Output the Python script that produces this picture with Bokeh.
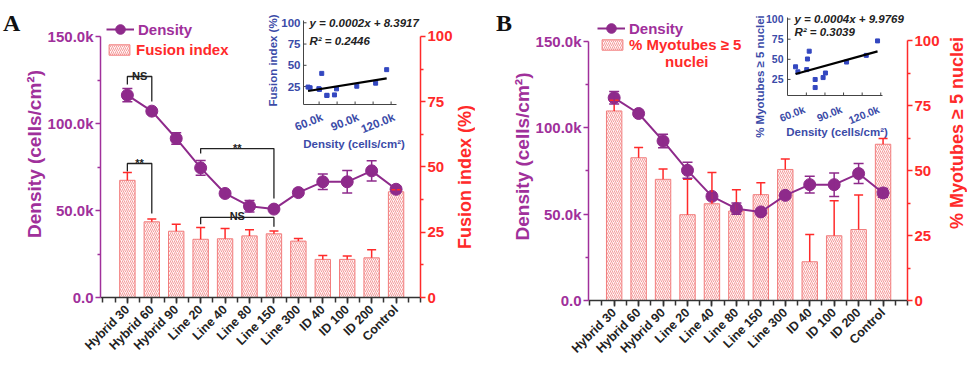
import numpy as np
from bokeh.plotting import figure
from bokeh.models import (Range1d, LinearAxis, FixedTicker, Whisker, TeeHead,
                          ColumnDataSource, Legend, LegendItem, Label, GridBox, Div)
from bokeh.embed import file_html
from bokeh.resources import INLINE
from bokeh.core.properties import value

FONT = "Liberation Sans"
PURPLE = "#8E2A8B"
PURPLE_TXT = "#A0309B"
RED = "#FF2A2A"
BAR_LINE = "#F27C7C"
HATCH = "#F29494"
BLUE = "#3B4BA8"
DOT = "#3347C0"
DARK = "#222222"

# ---------------- data ----------------
categories = ["Hybrid 30", "Hybrid 60", "Hybrid 90", "Line 20", "Line 40", "Line 80",
              "Line 150", "Line 300", "ID 40", "ID 100", "ID 200", "Control"]

density_a = [116300, 107100, 91400, 74500, 59800, 52500, 50800, 60300, 66500, 66500, 72800, 62200]
density_a_err = [3800, 1200, 3300, 4300, 1500, 3300, 1500, 1500, 4500, 6500, 5800, 2000]
fusion_a = [44.9, 29.0, 25.4, 22.3, 22.5, 23.6, 24.4, 21.6, 14.6, 14.6, 15.2, 40.5]
fusion_a_err = [3.0, 1.1, 2.7, 4.5, 3.9, 2.4, 1.1, 1.0, 1.5, 1.3, 3.1, 0.8]

density_b = [117400, 108300, 92400, 75400, 60300, 53200, 51300, 60900, 67100, 67100, 73500, 62300]
density_b_err = [3600, 1000, 3900, 4600, 2000, 3200, 1000, 1500, 4900, 6800, 5800, 2500]
myo_b = [72.9, 54.9, 46.6, 33.0, 37.2, 34.4, 40.7, 50.4, 14.9, 24.9, 27.3, 60.1]
myo_b_err = [4.1, 3.9, 4.0, 13.6, 12.0, 8.2, 4.6, 4.0, 10.5, 13.5, 13.3, 2.2]

# significance brackets (panel A, in density units)
bracket_x0 = [0, 0, 3, 3]
bracket_x1 = [1, 1, 6, 6]
bracket_top = [127000, 77000, 85600, 46000]
bracket_left_end = [122400, 72400, 82800, 42100]
bracket_right_end = [112600, 48300, 56900, 40600]
bracket_text = ["NS", "**", "**", "NS"]

left_ticks = [0, 50000, 100000, 150000]
left_tick_labels = ["0.0", "50.0k", "100.0k", "150.0k"]
left_minor = [25000, 75000, 125000]
right_ticks = [0, 25, 50, 75, 100]
right_minor = [12.5, 37.5, 62.5, 87.5]

inset_x_ticks = [60000, 90000, 120000]
inset_x_labels = ["60.0k", "90.0k", "120.0k"]
inset_x_minor = [75000, 105000]
inset_y_ticks = [25, 50, 75, 100]
inset_y_labels = ["25", "50", "75", "100"]

eq_a = ["y = 0.0002x + 8.3917", "R² = 0.2446"]
eq_b = ["y = 0.0004x + 9.9769", "R² = 0.3039"]


def build_main(density, dens_err, bars, bar_err, x_lo, y_max, r_max, fw, fh,
               b_left, b_right, b_top, b_bottom):
    idx = list(range(len(categories)))
    d = np.array(density, dtype=float)
    de = np.array(dens_err, dtype=float)
    b = np.array(bars, dtype=float)
    be = np.array(bar_err, dtype=float)
    src = ColumnDataSource(dict(x=idx, d=d, dlo=d - de, dhi=d + de, bar=b, btop=b + be))

    p = figure(frame_width=fw, frame_height=fh, x_range=Range1d(x_lo, 12.0),
               y_range=Range1d(0, y_max), output_backend="svg", toolbar_location=None,
               min_border_left=b_left, min_border_right=b_right,
               min_border_top=b_top, min_border_bottom=b_bottom)
    p.extra_y_ranges = {"right": Range1d(0, r_max)}
    p.grid.visible = False
    p.outline_line_color = None

    bar_r = p.vbar(x="x", top="bar", width=0.63, source=src, y_range_name="right",
                   fill_color="#FFF3F3", line_color=BAR_LINE, line_width=1,
                   hatch_pattern="/", hatch_color=HATCH, hatch_scale=4, hatch_weight=0.9)
    p.add_layout(Whisker(source=src, base="x", lower="bar", upper="btop", y_range_name="right",
                         line_color=RED, line_width=1.5, lower_head=None,
                         upper_head=TeeHead(size=9, line_color=RED, line_width=1.5),
                         level="annotation"))
    line_r = p.line(x="x", y="d", source=src, line_color=PURPLE, line_width=2)
    pts_r = p.scatter(x="x", y="d", source=src, size=12, color=PURPLE)
    p.add_layout(Whisker(source=src, base="x", lower="dlo", upper="dhi",
                         line_color=PURPLE, line_width=1.5,
                         upper_head=TeeHead(size=10, line_color=PURPLE, line_width=1.5),
                         lower_head=TeeHead(size=10, line_color=PURPLE, line_width=1.5),
                         level="annotation"))

    xa = p.xaxis[0]
    xa.ticker = FixedTicker(ticks=idx, minor_ticks=[v / 2 for v in range(-2, 25)])
    xa.major_label_overrides = {i: c for i, c in enumerate(categories)}
    xa.major_label_orientation = np.pi / 4
    xa.major_label_text_font = FONT
    xa.major_label_text_font_style = "bold"
    xa.major_label_text_font_size = "12.5px"
    xa.major_label_text_color = DARK
    xa.major_label_standoff = 4
    xa.axis_line_color = "#333333"
    xa.axis_line_width = 1.5
    xa.major_tick_line_color = "#333333"
    xa.minor_tick_line_color = "#333333"
    xa.major_tick_line_width = 1.5
    xa.minor_tick_line_width = 1.5
    xa.major_tick_out = 6
    xa.major_tick_in = 0
    xa.minor_tick_out = 5
    xa.minor_tick_in = 0

    ya = p.yaxis[0]
    ya.ticker = FixedTicker(ticks=left_ticks, minor_ticks=left_minor)
    ya.major_label_overrides = dict(zip(left_ticks, left_tick_labels))
    ya.bounds = (0, 150000)
    ya.axis_label = "Density (cells/cm²)"
    ya.axis_line_color = PURPLE_TXT
    ya.major_tick_line_color = PURPLE_TXT
    ya.minor_tick_line_color = PURPLE_TXT
    ya.axis_line_width = 1.5
    ya.major_tick_line_width = 1.5
    ya.minor_tick_line_width = 1.5
    ya.major_tick_out = 5
    ya.major_tick_in = 0
    ya.minor_tick_out = 3
    ya.minor_tick_in = 0
    ya.major_label_text_font = FONT
    ya.major_label_text_font_style = "bold"
    ya.major_label_text_font_size = "15px"
    ya.major_label_text_color = PURPLE_TXT
    ya.major_label_standoff = 2
    ya.axis_label_text_font = FONT
    ya.axis_label_text_font_style = "bold"
    ya.axis_label_text_font_size = "19px"
    ya.axis_label_text_color = PURPLE_TXT
    ya.axis_label_standoff = 0

    ra = LinearAxis(y_range_name="right",
                    ticker=FixedTicker(ticks=right_ticks, minor_ticks=right_minor),
                    bounds=(0, 100))
    ra.axis_line_color = RED
    ra.major_tick_line_color = RED
    ra.minor_tick_line_color = RED
    ra.axis_line_width = 1.5
    ra.major_tick_line_width = 1.5
    ra.minor_tick_line_width = 1.5
    ra.major_tick_out = 5
    ra.major_tick_in = 0
    ra.minor_tick_out = 3
    ra.minor_tick_in = 0
    ra.major_label_text_font = FONT
    ra.major_label_text_font_style = "bold"
    ra.major_label_text_font_size = "15px"
    ra.major_label_text_color = RED
    ra.major_label_standoff = 2
    p.add_layout(ra, "right")
    return p, line_r, pts_r, bar_r


def add_legends(p, line_r, pts_r, bar_r, bar_label, loc1, loc2):
    common = dict(border_line_color=None, background_fill_alpha=0, padding=0, margin=0,
                  label_standoff=4, spacing=0, label_text_font=FONT,
                  label_text_font_style="bold", label_text_font_size="15px")
    l1 = Legend(items=[LegendItem(label="Density", renderers=[line_r, pts_r])],
                location=loc1, glyph_width=28, glyph_height=24, label_height=24,
                label_text_color=PURPLE_TXT, **common)
    l2 = Legend(items=[LegendItem(label=bar_label, renderers=[bar_r])],
                location=loc2, glyph_width=26, glyph_height=13, label_height=13,
                label_text_color=RED, **common)
    p.add_layout(l1)
    p.add_layout(l2)


def outer_range(f0, f1, b0, b1, d0, d1):
    """Range over the whole frame (pixels f0..f1) so that d0..d1 lands on pixels b0..b1."""
    s = (d1 - d0) / (b1 - b0)
    return Range1d(d0 - (b0 - f0) * s, d1 + (f1 - b1) * s)


def add_inset(p, frame_box, inset_box, xr, yr, xs, ys, ylabel, eq, tick_size,
              ylab_dx, ylab_dy, xlab_dx, xlab_dy, ytick_dx, xtick_dx, xtick_dy, eq_dx, eq_dy):
    fl, fr, ft, fb = frame_box
    bl, br, bt, bb = inset_box
    p.extra_x_ranges["ins"] = outer_range(fl, fr, bl, br, xr[0], xr[1])
    p.extra_y_ranges["ins"] = outer_range(-fb, -ft, -bb, -bt, yr[0], yr[1])
    kw = dict(x_range_name="ins", y_range_name="ins")
    x0, x1 = xr
    y0, y1 = yr
    p.segment(x0=[x0, x0], y0=[y0, y0], x1=[x1, x0], y1=[y0, y1],
              line_color="#444444", line_width=1, **kw)
    xt = inset_x_ticks + inset_x_minor
    p.ray(x=xt, y=[y0] * len(xt), length=3, length_units="screen", angle=np.pi / 2,
          line_color="#444444", line_width=1, **kw)
    p.ray(x=[x0] * len(inset_y_ticks), y=inset_y_ticks, length=3, length_units="screen",
          angle=0, line_color="#444444", line_width=1, **kw)
    tfont = dict(text_font=value(FONT), text_font_style="bold", text_color=BLUE)
    p.text(x=[x0] * len(inset_y_ticks), y=inset_y_ticks, text=inset_y_labels,
           text_align="right", text_baseline="middle", x_offset=ytick_dx,
           text_font_size=tick_size, **tfont, **kw)
    p.text(x=inset_x_ticks, y=[y0] * len(inset_x_ticks), text=inset_x_labels, angle=0.38,
           text_align="right", text_baseline="middle", x_offset=xtick_dx, y_offset=xtick_dy,
           text_font_size=tick_size, **tfont, **kw)
    p.text(x=[(x0 + x1) / 2], y=[y0], text=["Density (cells/cm²)"], text_align="center",
           text_baseline="middle", x_offset=xlab_dx, y_offset=xlab_dy,
           text_font_size="11.5px", **tfont, **kw)
    p.text(x=[x0], y=[(y0 + y1) / 2], text=[ylabel], angle=np.pi / 2, text_align="center",
           text_baseline="middle", x_offset=ylab_dx, y_offset=ylab_dy,
           text_font_size="11.5px", **tfont, **kw)
    p.scatter(xs, ys, marker="square", size=4, color=DOT, **kw)
    coef = np.polyfit(np.array(xs, dtype=float), np.array(ys, dtype=float), 1)
    fx = np.array([min(xs), max(xs)], dtype=float)
    p.line(fx, np.polyval(coef, fx), line_color="black", line_width=2.2, **kw)
    p.text(x=[x0] * len(eq), y=[y1] * len(eq), text=eq, x_offset=eq_dx, y_offset=eq_dy,
           text_align="left", text_baseline="middle", text_font=value(FONT),
           text_font_style="bold italic", text_font_size="11.5px", text_color=DARK, **kw)


def side_label(text, size, width, line_h, height, left, top):
    style = {"writing-mode": "vertical-rl", "transform": "rotate(180deg)",
             "text-align": "center", "font-family": FONT, "font-weight": "bold",
             "font-size": size, "line-height": f"{line_h}px", "color": RED,
             "white-space": "nowrap"}
    return Div(text=text, width=width, height=height, margin=(top, 0, 0, left), styles=style)


# ---------------- panel A ----------------
pA, lA, sA, bA = build_main(density_a, density_a_err, fusion_a, fusion_a_err,
                            -1.1, 164943, 109.96, 320, 287, 93, 64, 4, 66)
pA.margin = (4, 0, 0, -11)
add_legends(pA, lA, sA, bA, "Fusion index", (6, 256), (6, 239))
mid = [(a + b) / 2 for a, b in zip(bracket_x0, bracket_x1)]
pA.multi_line(xs=[[a, a, b, b] for a, b in zip(bracket_x0, bracket_x1)],
              ys=[[l, t, t, r] for l, t, r in zip(bracket_left_end, bracket_top, bracket_right_end)],
              line_color=DARK, line_width=1.3)
pA.text(x=mid, y=bracket_top, text=bracket_text, text_align="center",
        text_baseline="alphabetic", y_offset=-1, text_font=value(FONT),
        text_font_style="bold", text_font_size="11px", text_color=DARK)
add_inset(pA, (101, 421, 12, 299), (304, 397, 22, 106), (47000, 124500), (3.9, 102.7),
          density_a, fusion_a, "Fusion index (%)", eq_a, "11.5px",
          -31, -2, 4, 39, -3, 3, 12, 6, [2, 20])

# ---------------- panel B ----------------
pB, lB, sB, bB = build_main(density_b, density_b_err, myo_b, myo_b_err,
                            -1.05, 166795, 110.77, 319, 288, 111, 49, 6, 63)
pB.margin = (6, 0, 0, 477)
add_legends(pB, lB, sB, bB, "% Myotubes ≥ 5", (9, 260), (11, 247))
pB.add_layout(Label(x=2.97, y=138200, text="nuclei", text_align="center", text_baseline="middle",
                    text_font=FONT, text_font_style="bold", text_font_size="15px", text_color=RED))
add_inset(pB, (596, 915, 14, 302), (795, 890, 19, 97), (44800, 121400), (5, 102),
          density_b, myo_b, "% Myotubes ≥ 5 nuclei", eq_b, "10.5px",
          -28, 20, 2, 36, -4, -2, 13, 7, [1, 14])

rA = side_label("Fusion index (%)", "18px", 24, 24, 170, 453, 92)
rB = side_label("% Myotubes ≥ 5 nuclei", "18px", 10, 22, 214, 946, 26)

letter_style = {"font-family": "Liberation Serif", "font-weight": "bold", "font-size": "24px",
                "line-height": "24px", "color": "#111111"}
dA = Div(text="A", width=30, height=30, margin=(11, 0, 0, 3), styles=letter_style)
dB = Div(text="B", width=30, height=30, margin=(11, 0, 0, 496), styles=letter_style)

grid = GridBox(children=[(pA, 0, 0), (pB, 0, 0), (dA, 0, 0), (dB, 0, 0), (rA, 0, 0), (rB, 0, 0)])

open("out.html", "w").write(file_html(grid, INLINE))
